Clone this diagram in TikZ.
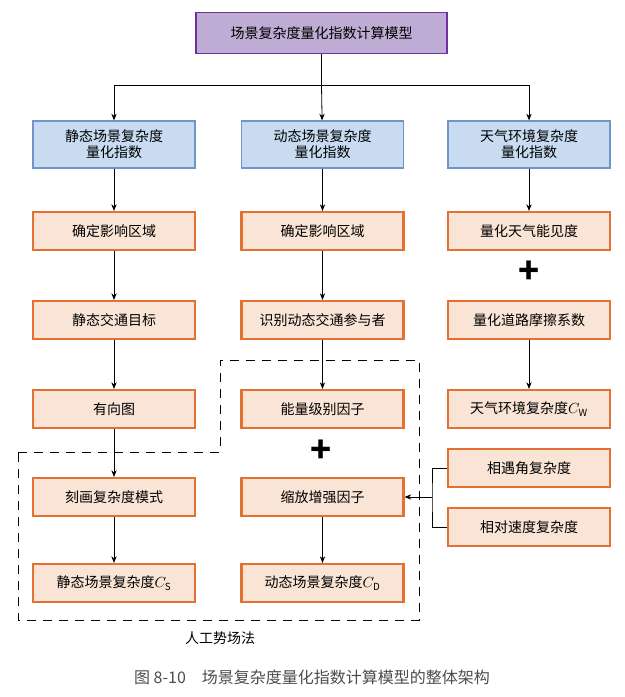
\documentclass[tikz,border=0pt]{standalone}
\usepackage{fontspec}
\setmainfont{Noto Sans CJK SC}
\usetikzlibrary{arrows.meta}
\definecolor{pf}{RGB}{190,172,212}\definecolor{pb}{RGB}{112,48,160}
\definecolor{bf}{RGB}{200,219,241}\definecolor{bb}{RGB}{110,150,200}
\definecolor{of}{RGB}{250,228,214}\definecolor{ob}{RGB}{228,112,50}
\begin{document}
\begin{tikzpicture}[x=0.75pt,y=-0.75pt,
 box/.style={draw=ob,fill=of,line width=1.6pt,minimum width=121.5pt,minimum height=28.5pt,inner sep=0pt,font=\fontsize{10.5}{12}\selectfont,align=center},
 bbox/.style={box,draw=bb,fill=bf,line width=1.2pt,minimum height=35pt},
 arr/.style={-{Stealth[length=5pt,width=4pt]},line width=0.6pt},
 plus/.style={font=\fontsize{26}{26}\selectfont\bfseries}]
\useasboundingbox (0,0) rectangle (625,697);
\node[box,draw=pb,fill=pf,line width=1.2pt,minimum width=188pt,minimum height=31pt] (top) at (321.5,33) {场景复杂度量化指数计算模型};
\node[bbox] (b1) at (114,144.5) {静态场景复杂度\\量化指数};
\node[bbox] (b2) at (322.5,144.5) {动态场景复杂度\\量化指数};
\node[bbox] (b3) at (529,144.5) {天气环境复杂度\\量化指数};
\node[box] (a1) at (114,231) {确定影响区域};
\node[box] (a2) at (114,320) {静态交通目标};
\node[box] (a3) at (114,409) {有向图};
\node[box] (a4) at (114,497) {刻画复杂度模式};
\node[box] (a5) at (114,583) {静态场景复杂度$C_{\mathrm S}$};
\node[box] (c1) at (322.5,231) {确定影响区域};
\node[box] (c2) at (322.5,320) {识别动态交通参与者};
\node[box] (c3) at (322.5,409) {能量级别因子};
\node[box] (c4) at (322.5,497) {缩放增强因子};
\node[box] (c5) at (322.5,583) {动态场景复杂度$C_{\mathrm D}$};
\node[box] (d1) at (529,231) {量化天气能见度};
\node[box] (d2) at (529,320) {量化道路摩擦系数};
\node[box] (d3) at (529,409) {天气环境复杂度$C_{\mathrm W}$};
\node[box] (d4) at (529,468) {相遇角复杂度};
\node[box] (d5) at (529,527) {相对速度复杂度};
\node[plus] (p1) at (529,272) {+};
\node[plus] (p2) at (321,451) {+};
\coordinate (t) at (321.5,85);
\draw[line width=0.6pt] (top) -- (t);
\draw[arr] (t) -| (b1); \draw[arr] (t) -- (b2); \draw[arr] (t) -| (b3);
\foreach \u/\v in {b1/a1,a1/a2,a2/a3,a3/a4,a4/a5,b2/c1,c1/c2,c2/c3,c4/c5,b3/d1,d2/d3}
  \draw[arr] (\u) -- (\v);
\coordinate (j) at (432,497);
\draw[line width=0.6pt] (d4.west) -| (j) |- (d5.west);
\draw[arr] (j) -- (c4.east);
\draw[dashed,dash pattern=on 7pt off 5pt,line width=0.6pt] (18,452) -- (220,452) -- (220,360) -- (419,360) -- (419,620) -- (18,620) -- cycle;
\node[font=\fontsize{10.5}{12}\selectfont] (lab) at (220,638) {人工势场法};
\node[font=\fontsize{12}{14}\selectfont,text=black!70] (cap) at (312,677) {图 8-10\quad 场景复杂度量化指数计算模型的整体架构};
\end{tikzpicture}
\end{document}
